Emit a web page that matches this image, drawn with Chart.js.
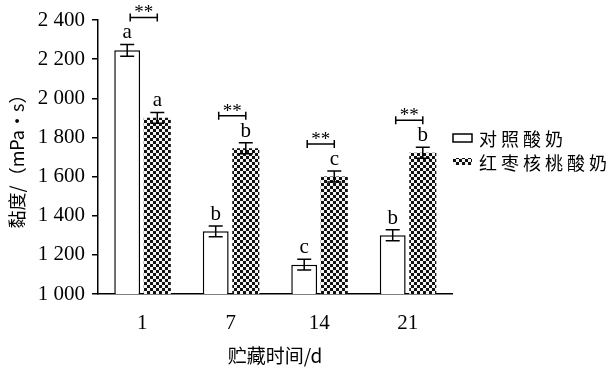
<!DOCTYPE html>
<html>
<head>
<meta charset="utf-8">
<script src="https://cdn.jsdelivr.net/npm/chart.js@4"></script>
<style>
  html, body { margin: 0; padding: 0; background: #fff; }
  #wrap { width: 613px; height: 371px; }
</style>
</head>
<body>
<div id="wrap"><canvas id="viscosityChart" width="613" height="371"></canvas></div>
<script>
// Storage days
const days = ["1", "7", "14", "21"];
// Viscosity (mPa·s)
const controlValues = [2245, 1320, 1150, 1300];
const controlErrors = [30, 28, 28, 28];
const jujubeValues = [1900, 1745, 1600, 1722];
const jujubeErrors = [28, 28, 28, 28];
// Significance letters
const controlLetters = ["a", "b", "c", "b"];
const jujubeLetters = ["a", "b", "c", "b"];
const pairMarks = ["**", "**", "**", "**"];
const seriesNames = ["对照酸奶", "红枣核桃酸奶"];

const serif = "'Liberation Serif', 'Times New Roman', serif";
const cjk = "'Noto Sans CJK SC', 'Liberation Serif', serif";

// checkered fill
function makeChecker() {
    const c = document.createElement("canvas");
    c.width = 6; c.height = 6;
    const g = c.getContext("2d");
    g.fillStyle = "#f4f4f4";
    g.fillRect(0, 0, 6, 6);
    g.fillStyle = "#111";
    g.fillRect(0, 0, 3, 3);
    g.fillRect(3, 3, 3, 3);
    return g.createPattern(c, "repeat");
}
const ctx = document.getElementById("viscosityChart").getContext("2d");
const checker = makeChecker();

// error bars, letters, ** brackets and the legend
const annotations = {
    id: "annotations",
    afterDatasetsDraw(chart) {
        const c = chart.ctx;
        const y = chart.scales.y;
        c.save();
        c.strokeStyle = "#000";
        c.fillStyle = "#000";
        c.lineWidth = 1.5;
        const errs = [controlErrors, jujubeErrors];
        const letters = [controlLetters, jujubeLetters];
        const tops = [];
        [0, 1].forEach(di => {
            const meta = chart.getDatasetMeta(di);
            meta.data.forEach((bar, i) => {
                const v = chart.data.datasets[di].data[i];
                const yHi = y.getPixelForValue(v + errs[di][i]);
                const yLo = y.getPixelForValue(v - errs[di][i]);
                c.beginPath();
                c.moveTo(bar.x, yLo); c.lineTo(bar.x, yHi);
                c.moveTo(bar.x - 7, yHi); c.lineTo(bar.x + 7, yHi);
                c.moveTo(bar.x - 7, yLo); c.lineTo(bar.x + 7, yLo);
                c.stroke();
                c.font = "21px " + serif;
                c.textAlign = "center";
                c.textBaseline = "alphabetic";
                c.fillText(letters[di][i], bar.x, yHi - 6);
                tops[i] = Math.min(tops[i] ?? 1e9, yHi);
            });
        });
        const m0 = chart.getDatasetMeta(0), m1 = chart.getDatasetMeta(1);
        days.forEach((d, i) => {
            const x0 = m0.data[i].x + 3, x1 = m1.data[i].x;
            const by = tops[i] - 27;
            c.beginPath();
            c.moveTo(x0, by); c.lineTo(x1, by);
            c.moveTo(x0, by - 4); c.lineTo(x0, by + 4);
            c.moveTo(x1, by - 4); c.lineTo(x1, by + 4);
            c.stroke();
            c.font = "19px " + serif;
            c.textAlign = "center";
            c.fillText(pairMarks[i], (x0 + x1) / 2, by + 1);
        });
        // legend
        const lx = 453;
        c.lineWidth = 1.5;
        c.fillStyle = "#fff";
        c.fillRect(lx, 134, 19, 8);
        c.strokeRect(lx, 134, 19, 8);
        c.fillStyle = checker;
        c.fillRect(lx, 158, 19, 7);
        c.fillStyle = "#000";
        c.font = "18px " + cjk;
        c.textAlign = "left";
        c.textBaseline = "middle";
        c.letterSpacing = "4px";
        c.fillText(seriesNames[0], 479, 139);
        c.fillText(seriesNames[1], 479, 163);
        c.restore();
    }
};

new Chart(ctx, {
    type: "bar",
    data: {
        labels: days,
        datasets: [
            {
                label: seriesNames[0],
                data: controlValues,
                backgroundColor: "#fff",
                borderColor: "#000",
                borderWidth: 1.5,
                categoryPercentage: 0.68,
                barPercentage: 0.86
            },
            {
                label: seriesNames[1],
                data: jujubeValues,
                backgroundColor: checker,
                borderWidth: 0,
                categoryPercentage: 0.68,
                barPercentage: 0.9
            }
        ]
    },
    options: {
        responsive: false,
        animation: false,
        layout: { padding: { top: 20, right: 161, left: 0, bottom: 0 } },
        plugins: {
            legend: { display: false },
            tooltip: { enabled: false }
        },
        scales: {
            x: {
                grid: { display: false, drawTicks: false },
                border: { color: "#000", width: 1.5 },
                ticks: { color: "#000", font: { family: serif, size: 21 }, padding: 17 },
                title: {
                    display: true, text: "贮藏时间/d", color: "#000",
                    font: { family: cjk, size: 19 }, padding: { top: 0, bottom: 4 }
                },
                afterFit(scale) { scale.height = 77; }
            },
            y: {
                min: 1000,
                max: 2400,
                grid: { drawOnChartArea: false, color: "#000", tickLength: 6, lineWidth: 1.5 },
                border: { color: "#000", width: 1.5 },
                ticks: {
                    stepSize: 200, color: "#000", padding: 7,
                    font: { family: serif, size: 21 },
                    callback: v => v >= 1000 ? Math.floor(v / 1000) + " " + String(v % 1000).padStart(3, "0") : String(v)
                },
                title: {
                    display: true, text: "黏度/（mPa•s）", color: "#000",
                    font: { family: cjk, size: 18 }, padding: { top: 6, bottom: 0 }
                },
                afterFit(scale) { scale.width = 98; }
            }
        }
    },
    plugins: [annotations]
});
</script>
</body>
</html>
